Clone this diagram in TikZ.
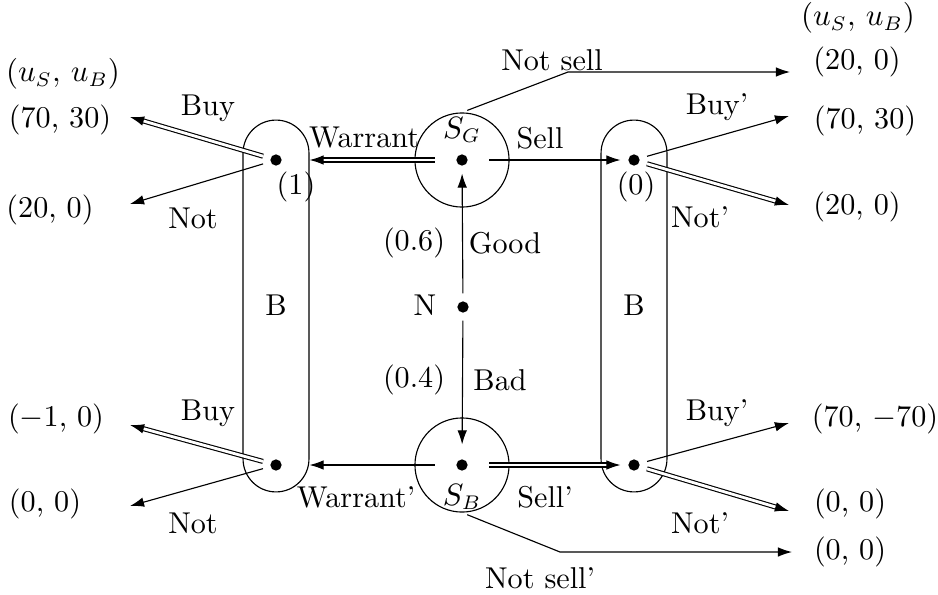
\documentclass[tikz,border=0pt]{standalone}
\usetikzlibrary{arrows.meta}
\begin{document}
\begin{tikzpicture}[x=0.355pt,y=-0.355pt,
  every node/.append style={font=\fontsize{10.7}{13}\selectfont},
  dot/.style={circle,fill,inner sep=0pt,minimum size=4pt,outer sep=2.8pt},
  arr/.style={-{Latex[length=5pt,width=3.4pt]}},
  dbl/.style={double,double distance=1pt,-{Latex[length=5pt,width=3.4pt]}},
  lbl/.style={inner sep=0pt},
  infoset/.style={draw,rounded corners=11.7pt,minimum width=23.4pt,minimum height=132pt,inner sep=0pt},
  snode/.style={draw,circle,minimum size=33.4pt,inner sep=0pt},
]
\useasboundingbox (0,0) rectangle (938,594);
% information sets and sender nodes
\node[infoset] (capL) at (276,306) {};
\node[infoset] (capR) at (634,306) {};
\node[snode] (sG) at (462,160) {};
\node[snode] (sB) at (462,465) {};
% decision points
\node[dot] (dL1) at (276,160) {};
\node[dot] (dL2) at (276,465) {};
\node[dot] (dR1) at (634,160) {};
\node[dot] (dR2) at (634,465) {};
\node[dot] (dG) at (462,160) {};
\node[dot] (dB) at (462,465) {};
\node[dot] (dN) at (463,307) {};
% free ends
\coordinate (eL1a) at (130,117);
\coordinate (eL1b) at (130,204);
\coordinate (eL2a) at (130,425);
\coordinate (eL2b) at (130,506);
\coordinate (eR1a) at (789,116);
\coordinate (eR1b) at (789,205);
\coordinate (eR2a) at (789,423);
\coordinate (eR2b) at (789,511);
\coordinate (nsk1) at (568,72);
\coordinate (nse1) at (790,72);
\coordinate (nsk2) at (560,552);
\coordinate (nse2) at (792,552);
\coordinate (wL1) at (capL.east |- dL1);
\coordinate (wL2) at (capL.east |- dL2);
% payoffs
\node[lbl] (hL) at (63,74) {$(u_S,\,u_B)$};
\node[lbl] (hR) at (858,18) {$(u_S,\,u_B)$};
\node[lbl] (pL1) at (60,120) {(70, 30)};
\node[lbl] (pL2) at (50,210) {(20, 0)};
\node[lbl] (pL3) at (56,419) {($-$1, 0)};
\node[lbl] (pL4) at (45,504) {(0, 0)};
\node[lbl] (pR0) at (857,62) {(20, 0)};
\node[lbl] (pR1) at (865,121) {(70, 30)};
\node[lbl] (pR2) at (857,207) {(20, 0)};
\node[lbl] (pR3) at (875,419) {(70, $-$70)};
\node[lbl] (pR4) at (850,504) {(0, 0)};
\node[lbl] (pR5) at (850,552) {(0, 0)};
% labels
\node[lbl] (tBuy1) at (208,108) {Buy};
\node[lbl] (tNot1) at (193,218) {Not};
\node[lbl] (tOne) at (296,187) {(1)};
\node[lbl] (tWar) at (364,138) {Warrant};
\node[lbl] (tSG) at (462,130) {$S_G$};
\node[lbl] (tSell) at (540,138) {Sell};
\node[lbl] (tNs) at (552,60) {Not sell};
\node[lbl] (tBuyR1) at (717,107) {Buy'};
\node[lbl] (tZero) at (636,187) {(0)};
\node[lbl] (tNotR1) at (700,217) {Not'};
\node[lbl] (tP6) at (414,243) {(0.6)};
\node[lbl] (tGood) at (505,243) {Good};
\node[lbl] (tN) at (425,305) {N};
\node[lbl] (tBL) at (276,305) {B};
\node[lbl] (tBR) at (634,305) {B};
\node[lbl] (tP4) at (414,380) {(0.4)};
\node[lbl] (tBad) at (500,380) {Bad};
\node[lbl] (tBuy2) at (208,413) {Buy};
\node[lbl] (tNot2) at (193,523) {Not};
\node[lbl] (tWar2) at (356,497) {Warrant'};
\node[lbl] (tSB) at (462,497) {$S_B$};
\node[lbl] (tSell2) at (545,497) {Sell'};
\node[lbl] (tBuyR2) at (717,413) {Buy'};
\node[lbl] (tNotR2) at (700,523) {Not'};
\node[lbl] (tNs2) at (540,578) {Not sell'};
% connectors
\draw[arr] (dN) -- (dG);
\draw[arr,shorten >=2.5pt] (dN) -- (dB);
\draw[dbl,shorten <=4.8pt] (dG) -- (wL1);
\draw[arr,shorten <=4.8pt] (dB) -- (wL2);
\draw[arr,shorten <=4.8pt] (dG) -- (dR1);
\draw[dbl,shorten <=4.8pt] (dB) -- (dR2);
\draw[arr,shorten <=2pt] (sG.north) -- (nsk1) -- (nse1);
\draw[arr,shorten <=2pt] (sB.south) -- (nsk2) -- (nse2);
\draw[dbl] (dL1) -- (eL1a);
\draw[arr] (dL1) -- (eL1b);
\draw[dbl] (dL2) -- (eL2a);
\draw[arr] (dL2) -- (eL2b);
\draw[arr] (dR1) -- (eR1a);
\draw[dbl] (dR1) -- (eR1b);
\draw[arr] (dR2) -- (eR2a);
\draw[dbl] (dR2) -- (eR2b);
\end{tikzpicture}
\end{document}
